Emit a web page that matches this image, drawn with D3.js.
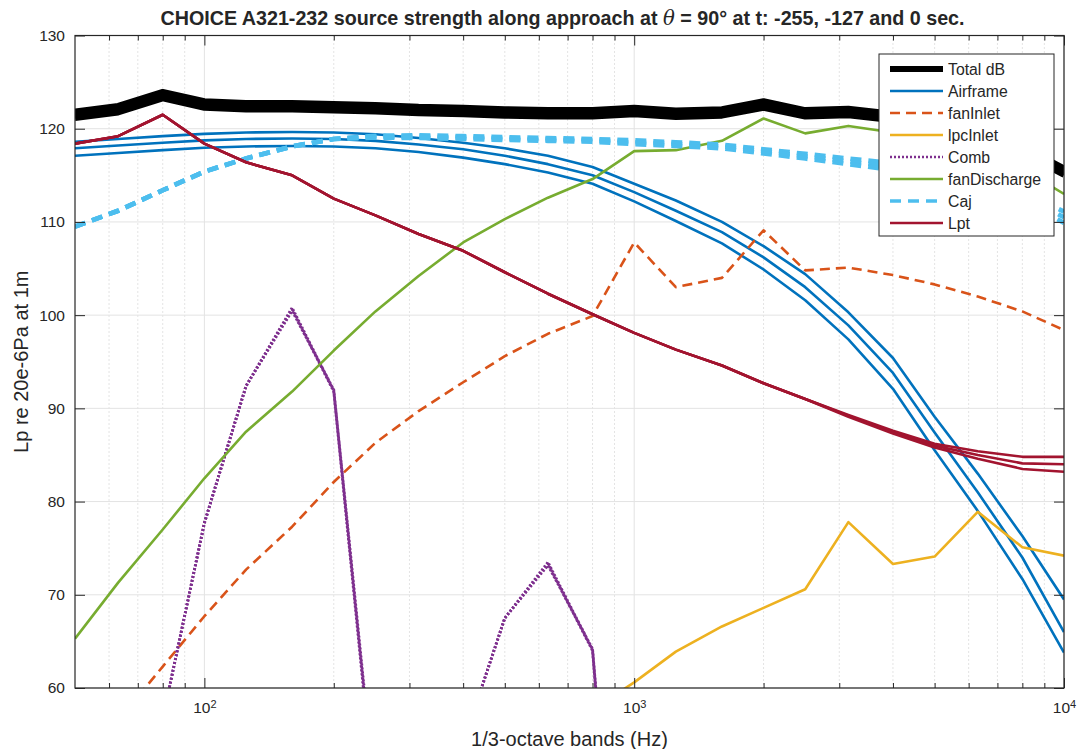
<!DOCTYPE html>
<html>
<head>
<meta charset="utf-8">
<script src="https://cdn.jsdelivr.net/npm/d3@7"></script>
<style>
  body { margin: 0; background: #ffffff; }
  svg text { font-family: "Liberation Sans", Arial, Helvetica, sans-serif; fill: #262626; }
</style>
</head>
<body>
<svg id="chart" width="1078" height="749"></svg>
<script>
// 1/3-octave band centre frequencies (Hz)
const bands = [50, 63, 80, 100, 125, 160, 200, 250, 315, 400, 500, 630, 800,
               1000, 1250, 1600, 2000, 2500, 3150, 4000, 5000, 6300, 8000, 10000];

// Source levels (dB) at t = -255, -127 and 0 s; null = band not plotted
const totalA = [121.85,122.45,123.95,122.95,122.75,122.75,122.65,122.55,122.35,122.25,122.1,122.0,122.0,122.25,121.95,122.1,122.95,122.0,122.15,121.6,120.8,119.8,118.1,115.75];
const totalB = [121.5,122.1,123.6,122.6,122.4,122.4,122.3,122.2,122.0,121.9,121.75,121.65,121.65,121.9,121.6,121.75,122.6,121.65,121.8,121.25,120.45,119.45,117.75,115.4];
const totalC = [121.15,121.75,123.25,122.25,122.05,122.05,121.95,121.85,121.65,121.55,121.4,121.3,121.3,121.55,121.25,121.4,122.25,121.3,121.45,120.9,120.1,119.1,117.4,115.05];

const airframeA = [118.6,118.9,119.2,119.45,119.6,119.65,119.6,119.4,119.0,118.5,117.9,117.1,115.9,114.1,112.3,110.0,107.4,104.4,100.3,95.4,89.1,83.0,76.3,69.5];
const airframeB = [117.9,118.2,118.5,118.75,118.9,118.95,118.9,118.7,118.3,117.8,117.1,116.2,115.0,113.2,111.2,108.9,106.2,103.0,98.9,93.8,87.4,81.0,74.0,66.0];
const airframeC = [117.1,117.4,117.7,117.95,118.1,118.15,118.1,117.9,117.5,116.9,116.2,115.3,114.1,112.2,110.1,107.7,104.9,101.6,97.4,92.1,85.5,79.0,71.7,63.8];

const fanInlet = [null,56.5,62.3,67.7,72.7,77.3,82.1,86.3,89.7,92.8,95.6,98.0,99.9,107.8,103.0,104.0,109.1,104.8,105.1,104.3,103.3,102.0,100.4,98.4];

const lpcInlet = [null,null,null,null,null,null,null,null,null,null,null,null,57.7,60.6,63.9,66.6,68.6,70.6,77.8,73.3,74.1,78.9,75.1,74.2];

const combA = [null,null,56.7,77.7,92.4,100.8,91.9,47.6,null,54.1,67.5,73.5,64.1,10,null,null,null,null,null,null,null,null,null,null];
const combB = [null,null,56.7,77.7,92.4,100.63,91.8,47.0,null,54.1,67.5,73.33,64.0,9.5,null,null,null,null,null,null,null,null,null,null];
const combC = [null,null,56.7,77.7,92.4,100.46,92.0,48.2,null,54.1,67.5,73.16,64.2,10.5,null,null,null,null,null,null,null,null,null,null];

const fanDischarge = [65.3,71.3,77.0,82.5,87.5,91.8,96.2,100.4,104.2,107.8,110.3,112.6,114.6,117.6,117.7,118.7,121.1,119.5,120.3,119.6,118.8,117.6,115.7,113.0];

const cajA = [109.5,111.2,113.4,115.4,116.8,118.1,118.9,119.25,119.3,119.2,119.1,119.0,118.9,118.75,118.55,118.3,117.8,117.3,116.8,116.3,115.6,114.7,113.3,111.1];
const cajB = [109.5,111.2,113.4,115.4,116.8,118.1,118.9,119.15,119.15,119.05,118.95,118.85,118.75,118.55,118.35,118.1,117.6,117.05,116.5,115.9,115.2,114.2,112.8,110.5];
const cajC = [109.5,111.2,113.4,115.4,116.8,118.1,118.9,119.05,119.0,118.9,118.8,118.7,118.6,118.35,118.15,117.9,117.35,116.8,116.2,115.55,114.8,113.7,112.3,109.9];

const lptA = [118.4,119.2,121.5,118.4,116.4,115.0,112.5,110.7,108.7,106.9,104.6,102.3,100.1,98.1,96.3,94.6,92.7,91.0,89.3,87.6,86.2,85.4,84.8,84.8];
const lptB = [118.4,119.2,121.5,118.4,116.4,115.0,112.5,110.7,108.7,106.9,104.6,102.3,100.1,98.1,96.3,94.6,92.7,91.0,89.2,87.45,86.0,85.0,84.1,84.0];
const lptC = [118.4,119.2,121.5,118.4,116.4,115.0,112.5,110.7,108.7,106.9,104.6,102.3,100.1,98.1,96.3,94.6,92.7,91.0,89.1,87.3,85.8,84.6,83.5,83.2];

// Axis ticks
const xMajorTicks = [100, 1000, 10000];
const xMinorTicks = [60,70,80,90,200,300,400,500,600,700,800,900,2000,3000,4000,5000,6000,7000,8000,9000];
const yTicks = [60, 70, 80, 90, 100, 110, 120, 130];

// Legend labels
const legendLabels = ["Total dB","Airframe","fanInlet","lpcInlet","Comb","fanDischarge","Caj","Lpt"];

// ---------------------------------------------------------------------------
const svg = d3.select("#chart");
const W = 1078, H = 749;
const plot = { left: 75, right: 1064, top: 35.5, bottom: 688 };
const axisColor = "#262626";

const x = d3.scaleLog().domain([50, 10000]).range([plot.left, plot.right]);
const y = d3.scaleLinear().domain([60, 130]).range([plot.bottom, plot.top]);

svg.append("rect").attr("width", W).attr("height", H).attr("fill", "#ffffff");

// Grid
const grid = svg.append("g");
grid.selectAll("line.minor").data(xMinorTicks).join("line")
  .attr("x1", d => x(d)).attr("x2", d => x(d))
  .attr("y1", plot.top).attr("y2", plot.bottom)
  .attr("stroke", "#c8c8c8").attr("stroke-width", 1)
  .attr("stroke-dasharray", "1,3");
grid.selectAll("line.majorx").data(xMajorTicks).join("line")
  .attr("x1", d => x(d)).attr("x2", d => x(d))
  .attr("y1", plot.top).attr("y2", plot.bottom)
  .attr("stroke", "#e3e3e3").attr("stroke-width", 1);
grid.selectAll("line.majory").data(yTicks).join("line")
  .attr("x1", plot.left).attr("x2", plot.right)
  .attr("y1", d => y(d)).attr("y2", d => y(d))
  .attr("stroke", "#e3e3e3").attr("stroke-width", 1);

// Series
svg.append("clipPath").attr("id", "plotclip")
  .append("rect")
  .attr("x", plot.left).attr("y", plot.top)
  .attr("width", plot.right - plot.left).attr("height", plot.bottom - plot.top);

const line = d3.line()
  .defined(d => d.v !== null)
  .x(d => x(d.f))
  .y(d => y(d.v));

const toPoints = arr => bands.map((f, i) => ({ f: f, v: arr[i] }));

const styles = {
  "Total dB":     { color: "#000000", width: 6,   dash: null },
  "Airframe":     { color: "#0072BD", width: 2.6, dash: null },
  "fanInlet":     { color: "#D95319", width: 2.6, dash: "10,6" },
  "lpcInlet":     { color: "#EDB120", width: 2.6, dash: null },
  "Comb":         { color: "#7E2F8E", width: 2.8, dash: "2,2" },
  "fanDischarge": { color: "#77AC30", width: 2.6, dash: null },
  "Caj":          { color: "#4DBEEE", width: 4.6, dash: "11,7" },
  "Lpt":          { color: "#A2142F", width: 2.6, dash: null }
};

const seriesList = [
  ["Total dB", [totalA, totalB, totalC]],
  ["Airframe", [airframeA, airframeB, airframeC]],
  ["fanInlet", [fanInlet]],
  ["lpcInlet", [lpcInlet]],
  ["Comb", [combA, combB, combC]],
  ["fanDischarge", [fanDischarge]],
  ["Caj", [cajA, cajB, cajC]],
  ["Lpt", [lptA, lptB, lptC]]
];

const lines = svg.append("g").attr("clip-path", "url(#plotclip)");
seriesList.forEach(([name, runs]) => {
  const s = styles[name];
  runs.forEach(arr => {
    lines.append("path")
      .datum(toPoints(arr))
      .attr("d", line)
      .attr("fill", "none")
      .attr("stroke", s.color)
      .attr("stroke-width", s.width)
      .attr("stroke-linejoin", "round")
      .attr("stroke-dasharray", s.dash);
  });
});

// Axes (ticks pointing inward, box on)
const gAx = svg.append("g");
const xb = gAx.append("g").attr("transform", `translate(0,${plot.bottom})`)
  .call(d3.axisBottom(x).tickValues(xMajorTicks).tickSizeInner(-10).tickSizeOuter(0).tickPadding(14).tickFormat(() => "10"));
xb.selectAll(".tick text").each(function(d) {
  const t = d3.select(this);
  t.attr("font-size", 15.5).attr("fill", axisColor).attr("text-anchor", "middle");
  t.append("tspan").attr("dy", "-0.45em").attr("font-size", 11).text(Math.round(Math.log10(d)));
});
gAx.append("g").attr("transform", `translate(0,${plot.bottom})`)
  .call(d3.axisBottom(x).tickValues(xMinorTicks).tickSizeInner(-5).tickSizeOuter(0).tickFormat(""));
gAx.append("g").attr("transform", `translate(0,${plot.top})`)
  .call(d3.axisTop(x).tickValues(xMajorTicks).tickSizeInner(-10).tickSizeOuter(0).tickFormat(""));
gAx.append("g").attr("transform", `translate(0,${plot.top})`)
  .call(d3.axisTop(x).tickValues(xMinorTicks).tickSizeInner(-5).tickSizeOuter(0).tickFormat(""));

const yl = gAx.append("g").attr("transform", `translate(${plot.left},0)`)
  .call(d3.axisLeft(y).tickValues(yTicks).tickSizeInner(-10).tickSizeOuter(0).tickPadding(10).tickFormat(d3.format("d")));
yl.selectAll(".tick text").attr("font-size", 15.5).attr("fill", axisColor);
gAx.append("g").attr("transform", `translate(${plot.right},0)`)
  .call(d3.axisRight(y).tickValues(yTicks).tickSizeInner(-10).tickSizeOuter(0).tickFormat(""));

gAx.selectAll(".domain").remove();
gAx.selectAll(".tick line").attr("stroke", axisColor).attr("stroke-width", 1);

svg.append("rect")
  .attr("x", plot.left).attr("y", plot.top)
  .attr("width", plot.right - plot.left).attr("height", plot.bottom - plot.top)
  .attr("fill", "none").attr("stroke", axisColor).attr("stroke-width", 1.2);

// Labels
const title = svg.append("text")
  .attr("x", (plot.left + plot.right) / 2 - 7).attr("y", 25)
  .attr("text-anchor", "middle").attr("font-size", 19.7).attr("font-weight", "bold")
  .attr("fill", "#000000");
title.append("tspan").text("CHOICE A321-232 source strength along approach at ");
title.append("tspan").attr("font-style", "italic").attr("font-family", "DejaVu Serif, serif").attr("font-weight", "normal").text("\u03B8");
title.append("tspan").text(" = 90\u00B0 at t: -255, -127 and 0 sec.");

svg.append("text")
  .attr("x", (plot.left + plot.right) / 2).attr("y", 746)
  .attr("text-anchor", "middle").attr("font-size", 20)
  .text("1/3-octave bands (Hz)");

svg.append("text")
  .attr("transform", `translate(28,${(plot.top + plot.bottom) / 2}) rotate(-90)`)
  .attr("text-anchor", "middle").attr("font-size", 20)
  .text("Lp re 20e-6Pa at 1m");

// Legend
const lg = { x: 879, y: 54, w: 175, h: 182, row: 22, first: 15 };
const legend = svg.append("g");
legend.append("rect")
  .attr("x", lg.x).attr("y", lg.y).attr("width", lg.w).attr("height", lg.h)
  .attr("fill", "#ffffff").attr("stroke", axisColor).attr("stroke-width", 1);
legendLabels.forEach((name, i) => {
  const s = styles[name];
  const cy = lg.y + lg.first + i * lg.row;
  legend.append("line")
    .attr("x1", 890).attr("x2", 943).attr("y1", cy).attr("y2", cy)
    .attr("stroke", s.color).attr("stroke-width", name === "Total dB" ? 6 : (name === "Caj" ? 3.5 : 2.6))
    .attr("stroke-dasharray", s.dash);
  legend.append("text")
    .attr("x", 948).attr("y", cy + 5.5)
    .attr("font-size", 15.8).attr("fill", "#000000")
    .text(name);
});
</script>
</body>
</html>
